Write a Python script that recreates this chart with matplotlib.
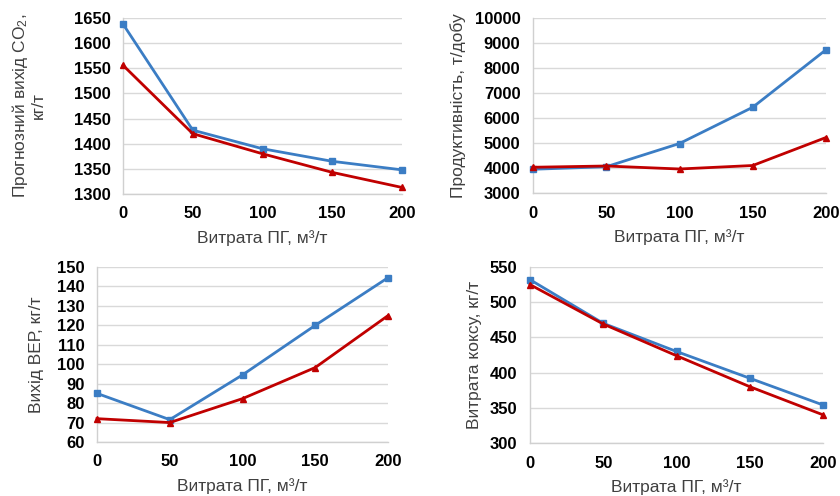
import matplotlib
matplotlib.use("Agg")
import matplotlib.pyplot as plt

plt.rcParams['font.family'] = ['Liberation Sans', 'DejaVu Sans']
plt.rcParams['mathtext.fontset'] = 'custom'
plt.rcParams['mathtext.rm'] = 'Liberation Sans'
plt.rcParams['mathtext.it'] = 'Liberation Sans'

x_gas = [0, 50, 100, 150, 200]

co2_blue = [1638, 1427, 1390, 1365, 1348]
co2_red = [1556, 1420, 1380, 1343, 1313]

prod_blue = [3950, 4050, 4980, 6430, 8730]
prod_red = [4030, 4080, 3960, 4100, 5220]

ver_blue = [85, 71.5, 94.5, 120, 144.5]
ver_red = [72, 70, 82.3, 98.3, 125]

coke_blue = [532, 470, 430, 392, 354]
coke_red = [525, 469, 424, 380, 340]

xlabel = "Витрата ПГ, м³/т"
ylabels = ["Прогнозний вихід CO$_2$,\nкг/т", "Продуктивність, т/добу",
           "Вихід ВЕР, кг/т", "Витрата коксу, кг/т"]
yticks = [list(range(1300, 1651, 50)), list(range(3000, 10001, 1000)),
          list(range(60, 151, 10)), list(range(300, 551, 50))]

W, H = 840, 496
fig = plt.figure(figsize=(W / 100, H / 100), dpi=100)

# pixel boxes: left, right, top, bottom
boxes = [(123, 402, 18, 194), (533, 826, 18, 193), (97, 388, 267, 442), (530, 823, 267, 443)]
ylabelpads = [20, 6, 9, 6]
data = [(co2_blue, co2_red), (prod_blue, prod_red), (ver_blue, ver_red), (coke_blue, coke_red)]

blue = '#3B7DC4'
red = '#C00000'
grey_txt = '#404040'

for i, (box, (b, r)) in enumerate(zip(boxes, data)):
    l, rr, t, bt = box
    ax = fig.add_axes([l / W, 1 - bt / H, (rr - l) / W, (bt - t) / H])
    ax.plot(x_gas, b, color=blue, lw=2.0, marker='s', ms=4.5, zorder=3, clip_on=False)
    ax.plot(x_gas, r, color=red, lw=2.0, marker='^', ms=4.5, zorder=4, clip_on=False)
    ax.set_xlim(0, 200)
    ax.set_ylim(yticks[i][0], yticks[i][-1])
    ax.set_xticks(x_gas)
    ax.set_yticks(yticks[i])
    ax.grid(axis='y', color='#D9D9D9', lw=1.0)
    ax.set_axisbelow(True)
    for s in ['top', 'right']:
        ax.spines[s].set_visible(False)
    for s in ['left', 'bottom']:
        ax.spines[s].set_color('#D0D0D0')
        ax.spines[s].set_linewidth(1.0)
    ax.tick_params(length=0, labelsize=12, pad=9)
    ax.tick_params(axis='x', pad=9)
    for lab in ax.get_xticklabels() + ax.get_yticklabels():
        lab.set_fontweight('bold')
    ax.set_xlabel(xlabel, fontsize=12.5, color=grey_txt, labelpad=6)
    ax.set_ylabel(ylabels[i], fontsize=12.5, color=grey_txt, labelpad=ylabelpads[i], linespacing=1.1)

fig.savefig("out.png", dpi=100)
